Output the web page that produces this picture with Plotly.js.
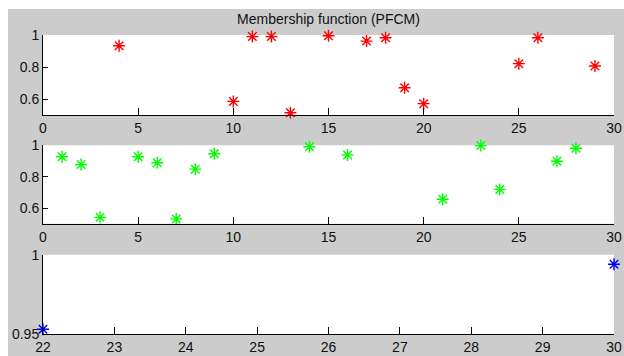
<!DOCTYPE html>
<html>
<head>
<meta charset="utf-8">
<script src="https://cdn.plot.ly/plotly-3.0.1.min.js"></script>
<style>
html,body{margin:0;padding:0;background:#ffffff;width:624px;height:356px;overflow:hidden;}
#chart{position:absolute;left:8px;top:9px;width:616px;height:347px;}
</style>
</head>
<body>
<div id="chart"></div>
<script>
// Cluster 1 (red)
var redX = [4, 10, 11, 12, 13, 15, 17, 18, 19, 20, 25, 26, 29];
var redY = [0.933, 0.585, 0.99, 0.99, 0.514, 0.995, 0.962, 0.983, 0.67, 0.571, 0.821, 0.983, 0.806];
// Cluster 2 (green)
var greenX = [1, 2, 3, 5, 6, 7, 8, 9, 14, 16, 21, 23, 24, 27, 28];
var greenY = [0.927, 0.877, 0.541, 0.927, 0.889, 0.531, 0.848, 0.946, 0.991, 0.939, 0.656, 0.998, 0.719, 0.898, 0.981];
// Cluster 3 (blue)
var blueX = [22, 30];
var blueY = [0.953, 0.994];

var titleText = 'Membership function (PFCM)';
var xTicksTop = [0, 5, 10, 15, 20, 25, 30];
var yTicksTop = [0.6, 0.8, 1];
var xTicksBottom = [22, 23, 24, 25, 26, 27, 28, 29, 30];
var yTicksBottom = [0.95, 1];
var yTickTextBottom = ['0.95', '1'];

var font = {family: 'Liberation Sans, Arial, Helvetica, sans-serif', size: 14, color: '#111'};

function mk(x, y, color, xa, ya) {
  return {
    x: x, y: y, xaxis: xa, yaxis: ya, type: 'scatter', mode: 'markers',
    cliponaxis: false, hoverinfo: 'skip',
    marker: {symbol: 'asterisk-open', size: 10, color: color, line: {color: color, width: 1.4}}
  };
}

var traces = [
  mk(redX, redY, '#ff0000', 'x', 'y'),
  mk(greenX, greenY, '#00ff00', 'x2', 'y2'),
  mk(blueX, blueY, '#0000ff', 'x3', 'y3')
];

function xaxis(range, ticks, anchor) {
  return {
    range: range, tickvals: ticks, ticktext: ticks.map(String), anchor: anchor,
    showline: true, linecolor: '#000', linewidth: 1, mirror: false,
    ticks: 'inside', ticklen: 7, tickcolor: '#000', tickwidth: 1,
    showgrid: false, zeroline: false, fixedrange: true, tickfont: font
  };
}
function yaxis(range, ticks, text, domain, anchor) {
  return {
    range: range, tickvals: ticks, ticktext: text, domain: domain, anchor: anchor,
    showline: true, linecolor: '#000', linewidth: 1, mirror: false,
    ticks: 'inside', ticklen: 5, tickcolor: '#000', tickwidth: 1,
    showgrid: false, zeroline: false, fixedrange: true, tickfont: font
  };
}

var layout = {
  width: 616, height: 347,
  paper_bgcolor: '#cccccc', plot_bgcolor: '#ffffff',
  margin: {l: 35, r: 10, t: 26, b: 22, pad: 0},
  showlegend: false,
  font: font,
  title: {text: titleText, font: {family: font.family, size: 14, color: '#111'},
          xref: 'paper', x: 0.5, xanchor: 'center', y: 0.971, yanchor: 'middle'},
  xaxis: xaxis([0, 30], xTicksTop, 'y'),
  yaxis: yaxis([0.5, 1], yTicksTop, yTicksTop.map(String), [0.7324, 1], 'x'),
  xaxis2: xaxis([0, 30], xTicksTop, 'y2'),
  yaxis2: yaxis([0.5, 1], yTicksTop, yTicksTop.map(String), [0.3686, 0.6311], 'x2'),
  xaxis3: xaxis([22, 30], xTicksBottom, 'y3'),
  yaxis3: yaxis([0.95, 1], yTicksBottom, yTickTextBottom, [0, 0.2652], 'x3')
};

Plotly.newPlot('chart', traces, layout, {displayModeBar: false, staticPlot: true});
</script>
</body>
</html>
